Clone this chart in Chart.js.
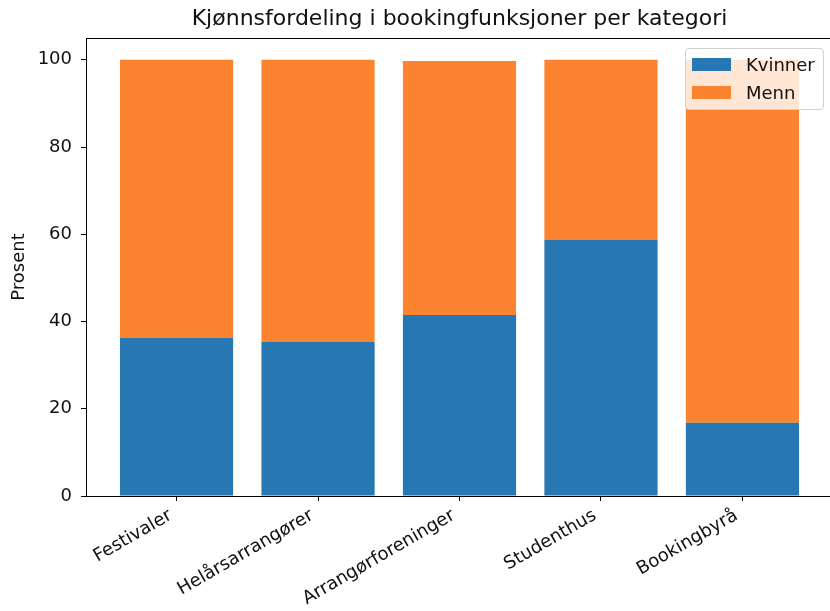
<!DOCTYPE html>
<html>
<head>
<meta charset="utf-8">
<script src="https://cdn.jsdelivr.net/npm/chart.js@4/dist/chart.umd.min.js"></script>
<style>
  html, body { margin: 0; padding: 0; background: #fff; overflow: hidden; width: 830px; height: 611px; }
  #wrap { position: relative; width: 838px; height: 611px; }
  #legend {
    position: absolute; left: 685px; top: 48px; width: 139px; height: 62px; box-sizing: border-box;
    background: rgba(255,255,255,0.8); border: 1px solid #d0d0d0; border-radius: 4px;
    font-family: "DejaVu Sans", sans-serif; font-size: 18px; color: #111;
  }
  .item { position: absolute; left: 6px; height: 20px; display: flex; align-items: center; }
  .sw { width: 39px; height: 13px; margin-right: 15px; }
</style>
</head>
<body>
<div id="wrap">
  <canvas id="c" width="838" height="611"></canvas>
  <div id="legend"></div>
</div>
<script>
const categories = ["Festivaler", "Helårsarrangører", "Arrangørforeninger", "Studenthus", "Bookingbyrå"];
const kvinner = [36.2, 35.3, 41.5, 58.7, 16.8];
const menn = [63.8, 64.7, 58.2, 41.3, 83.2];
const seriesNames = ["Kvinner", "Menn"];
const seriesColors = ["#2777b2", "#fc832f"];
const yTicks = [0, 20, 40, 60, 80, 100];
const titleText = "Kjønnsfordeling i bookingfunksjoner per kategori";
const yTitle = "Prosent";

const FONT = "'DejaVu Sans', sans-serif";
const TXT = '#111';

const boxPlugin = {
  id: 'box',
  afterDraw(chart) {
    const a = chart.chartArea, ctx = chart.ctx;
    ctx.save();
    ctx.strokeStyle = '#000';
    ctx.lineWidth = 1;
    ctx.strokeRect(Math.round(a.left) + 0.5, Math.round(a.top) + 0.5, Math.round(a.right - a.left), Math.round(a.bottom - a.top));
    ctx.restore();
  }
};

const mk = arr => arr.map((v, i) => ({ x: i, y: v }));

new Chart(document.getElementById('c'), {
  type: 'bar',
  data: {
    datasets: [
      { label: seriesNames[0], data: mk(kvinner), backgroundColor: seriesColors[0], borderWidth: 0, barPercentage: 1.0, categoryPercentage: 0.8 },
      { label: seriesNames[1], data: mk(menn), backgroundColor: seriesColors[1], borderWidth: 0, barPercentage: 1.0, categoryPercentage: 0.8 }
    ]
  },
  options: {
    responsive: false,
    animation: false,
    layout: { padding: { left: 0, right: 5, top: 0, bottom: 0 } },
    plugins: {
      legend: { display: false },
      tooltip: { enabled: false },
      title: {
        display: true, text: titleText, fullSize: false,
        font: { family: FONT, size: 22, weight: 'normal' }, color: TXT,
        padding: { top: 6, bottom: 5.6 }
      }
    },
    scales: {
      x: {
        type: 'linear', stacked: true, min: -0.64, max: 4.64, offset: false,
        afterBuildTicks(scale) { scale.ticks = categories.map((_, i) => ({ value: i })); },
        afterFit(scale) { scale.height = 115; },
        ticks: {
          autoSkip: false, minRotation: 30, maxRotation: 30, padding: 4, labelOffset: -6,
          color: TXT, font: { family: FONT, size: 18 },
          callback: v => categories[v] ?? ''
        },
        grid: { offset: false, drawOnChartArea: false, drawTicks: true, tickLength: 5, color: '#000' },
        border: { display: true, color: '#000' }
      },
      y: {
        stacked: true, min: 0, max: 105,
        afterBuildTicks(scale) { scale.ticks = yTicks.map(v => ({ value: v })); },
        afterFit(scale) { scale.width = 86; },
        title: { display: true, text: yTitle, color: TXT, font: { family: FONT, size: 18 }, padding: { top: 9, bottom: 0 } },
        ticks: { color: TXT, font: { family: FONT, size: 18 }, padding: 9 },
        grid: { drawOnChartArea: false, drawTicks: true, tickLength: 5, color: '#000' },
        border: { display: true, color: '#000' }
      }
    }
  },
  plugins: [boxPlugin]
});

const lg = document.getElementById('legend');
seriesNames.forEach((n, i) => {
  const d = document.createElement('div');
  d.className = 'item';
  d.style.top = (i === 0 ? 5 : 33) + 'px';
  d.innerHTML = '<span class="sw" style="background:' + seriesColors[i] + '"></span><span>' + n + '</span>';
  lg.appendChild(d);
});
</script>
</body>
</html>
